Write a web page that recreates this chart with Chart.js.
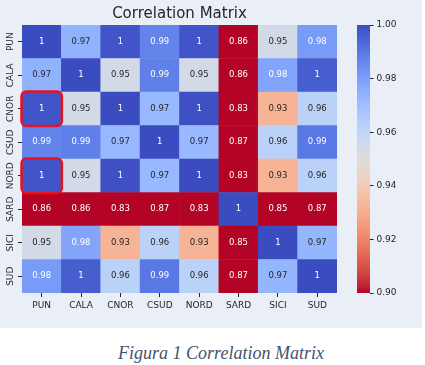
<!DOCTYPE html>
<html>
<head>
<meta charset="utf-8">
<script src="https://cdn.jsdelivr.net/npm/chart.js@4.4.0/dist/chart.umd.min.js"></script>
<style>
  html, body { margin:0; padding:0; background:#fff; }
  #wrap { position:relative; width:425px; height:365px; overflow:hidden; }
  #panel { position:absolute; left:0; top:0; width:422px; height:328px; background:#eaeef6; }
  #heat { position:absolute; left:0; top:0; }
  #cbar { position:absolute; left:357px; top:0; }
  #caption { position:absolute; left:0; top:343px; width:442px; text-align:center;
             font:italic 18px/20px "Liberation Serif", serif; color:#44546a; }
</style>
</head>
<body>
<div id="wrap">
  <div id="panel"></div>
  <canvas id="heat" width="345" height="328"></canvas>
  <canvas id="cbar" width="60" height="328"></canvas>
  <div id="caption">Figura 1 Correlation Matrix</div>
</div>
<script>
  // ===== Data (valori stimati dal colore, etichette arrotondate a 2 cifre) =====
  const labels = ['PUN','CALA','CNOR','CSUD','NORD','SARD','SICI','SUD'];
  const PUN  = [1, 0.974, 0.998, 0.987, 0.998, 0.86, 0.954, 0.981];
  const CALA = [0.974, 1, 0.954, 0.988, 0.954, 0.86, 0.978, 0.996];
  const CNOR = [0.998, 0.954, 1, 0.972, 0.999, 0.83, 0.932, 0.962];
  const CSUD = [0.987, 0.988, 0.972, 1, 0.972, 0.87, 0.962, 0.99];
  const NORD = [0.998, 0.954, 0.999, 0.972, 1, 0.83, 0.932, 0.962];
  const SARD = [0.86, 0.86, 0.83, 0.87, 0.83, 1, 0.85, 0.87];
  const SICI = [0.954, 0.978, 0.932, 0.962, 0.932, 0.85, 1, 0.973];
  const SUD  = [0.981, 0.996, 0.962, 0.99, 0.962, 0.87, 0.973, 1];
  const matrix = [PUN, CALA, CNOR, CSUD, NORD, SARD, SICI, SUD];
  const cbarTicks = [0.90, 0.92, 0.94, 0.96, 0.98, 1.00];
  const vmin = 0.90, vmax = 1.00;
  const highlights = [['CNOR','PUN'], ['NORD','PUN']];

  // coolwarm samples (blue -> red)
  const coolwarm = [
    [59,76,192],[68,90,204],[77,104,215],[87,117,225],[98,130,234],[108,142,241],
    [119,154,247],[130,165,251],[141,176,254],[152,185,255],[163,194,255],[174,201,253],
    [184,208,249],[194,213,244],[204,217,238],[213,219,230],[221,221,221],[229,216,209],
    [236,211,197],[241,204,184],[245,196,172],[247,187,159],[247,177,147],[247,166,134],
    [244,154,123],[241,141,111],[236,127,99],[229,112,89],[222,96,78],[213,80,69],
    [203,62,60],[192,40,51],[180,4,38]
  ];

  // ===== Helpers =====
  function rgbAt(v){
    let x = (v - vmin) / (vmax - vmin);
    x = Math.max(0, Math.min(1, x));
    const p = (1 - x) * 32;
    const i = Math.min(31, Math.floor(p));
    const f = p - i;
    const a = coolwarm[i], b = coolwarm[i+1];
    return [0,1,2].map(k => Math.round(a[k] + (b[k]-a[k])*f));
  }
  const css = (c) => `rgb(${c[0]},${c[1]},${c[2]})`;
  function lum(c){
    const lin = c.map(u => { u /= 255; return u <= 0.03928 ? u/12.92 : Math.pow((u+0.055)/1.055, 2.4); });
    return 0.2126*lin[0] + 0.7152*lin[1] + 0.0722*lin[2];
  }
  const fmt = (v) => String(Number(v.toPrecision(2)));
  const FONT = 'DejaVu Sans';
  const INK = '#262626';

  // stacked bars: dataset 0 = bottom row
  const datasets = labels.map((_, i) => {
    const r = labels.length - 1 - i;
    return {
      label: labels[r],
      data: labels.map(() => 1),
      backgroundColor: matrix[r].map(v => css(rgbAt(v))),
      borderWidth: 0,
      barPercentage: 1,
      categoryPercentage: 1
    };
  });

  // ===== Plugins =====
  const annotate = {
    id: 'annotate',
    afterDatasetsDraw(chart){
      const ctx = chart.ctx;
      ctx.save();
      ctx.font = `8.5px "${FONT}"`;
      ctx.textAlign = 'center';
      ctx.textBaseline = 'middle';
      chart.data.datasets.forEach((ds, i) => {
        const r = labels.length - 1 - i;
        chart.getDatasetMeta(i).data.forEach((el, c) => {
          const v = matrix[r][c];
          ctx.fillStyle = lum(rgbAt(v)) > 0.408 ? INK : '#ffffff';
          ctx.fillText(fmt(v), el.x, (el.y + el.base) / 2);
        });
      });
      // riquadri rossi
      ctx.strokeStyle = '#e8121c';
      ctx.lineWidth = 2.5;
      highlights.forEach(([rowName, colName]) => {
        const r = labels.indexOf(rowName), c = labels.indexOf(colName);
        const el = chart.getDatasetMeta(labels.length - 1 - r).data[c];
        const x0 = el.x - el.width/2 - 0.5, y0 = Math.min(el.y, el.base) - 0.5;
        const w = el.width + 1, h = Math.abs(el.base - el.y) + 1;
        ctx.beginPath();
        ctx.roundRect(x0, y0, w, h, 5);
        ctx.stroke();
      });
      ctx.restore();
    },
    afterDraw(chart){
      const ctx = chart.ctx;
      const ys = chart.scales.y;
      ctx.save();
      ctx.font = `9px "${FONT}"`;
      ctx.fillStyle = INK;
      ctx.textAlign = 'center';
      ctx.textBaseline = 'alphabetic';
      labels.forEach((name, r) => {
        const y = ys.getPixelForValue(labels.length - 1 - r + 0.5);
        ctx.save();
        ctx.translate(13, y);
        ctx.rotate(-Math.PI/2);
        ctx.fillText(name, 0, 0);
        ctx.restore();
      });
      ctx.restore();
    }
  };

  // ===== Heatmap =====
  new Chart(document.getElementById('heat'), {
    type: 'bar',
    data: { labels, datasets },
    plugins: [annotate],
    options: {
      responsive: false,
      animation: false,
      layout: { padding: { left: 0, right: 8, top: 0, bottom: 15 } },
      plugins: {
        legend: { display: false },
        tooltip: { enabled: false },
        title: {
          display: true, text: 'Correlation Matrix', fullSize: false,
          color: INK, font: { family: FONT, size: 15, weight: 'normal' },
          padding: { top: 5, bottom: 2 }
        }
      },
      scales: {
        x: {
          stacked: true,
          grid: { drawOnChartArea: false, drawTicks: true, tickLength: 4, tickColor: INK, offset: false },
          border: { display: false },
          ticks: { color: INK, font: { family: FONT, size: 9 }, padding: 3, maxRotation: 0 },
          afterFit: (s) => { s.height = 20; }
        },
        y: {
          stacked: true, min: 0, max: labels.length,
          afterBuildTicks: (s) => { s.ticks = labels.map((_, i) => ({ value: i + 0.5 })); },
          grid: { drawOnChartArea: false, drawTicks: true, tickLength: 4, tickColor: INK },
          border: { display: false },
          ticks: { display: false },
          afterFit: (s) => { s.width = 22; }
        }
      }
    }
  });

  // ===== Colorbar =====
  new Chart(document.getElementById('cbar'), {
    type: 'bar',
    data: {
      labels: ['cb'],
      datasets: [{
        data: [[vmin, vmax]],
        borderWidth: 0,
        barPercentage: 1,
        categoryPercentage: 1,
        backgroundColor: (c) => {
          const a = c.chart.chartArea;
          if (!a) return null;
          const g = c.chart.ctx.createLinearGradient(0, a.bottom, 0, a.top);
          for (let k = 0; k <= 32; k++) {
            g.addColorStop(k/32, css(rgbAt(vmin + (vmax - vmin) * k/32)));
          }
          return g;
        }
      }]
    },
    options: {
      responsive: false,
      animation: false,
      layout: { padding: { left: 0, right: 0, top: 25, bottom: 35 } },
      plugins: { legend: { display: false }, tooltip: { enabled: false } },
      scales: {
        x: { display: false },
        y: {
          position: 'right', min: vmin, max: vmax,
          afterBuildTicks: (s) => { s.ticks = cbarTicks.map(v => ({ value: v })); },
          grid: { drawOnChartArea: false, drawTicks: true, tickLength: 3.5, tickColor: INK },
          border: { display: false },
          ticks: { color: INK, font: { family: FONT, size: 9 }, padding: 3, callback: (v) => Number(v).toFixed(2) },
          afterFit: (s) => { s.width = 47; }
        }
      }
    }
  });
</script>
</body>
</html>
